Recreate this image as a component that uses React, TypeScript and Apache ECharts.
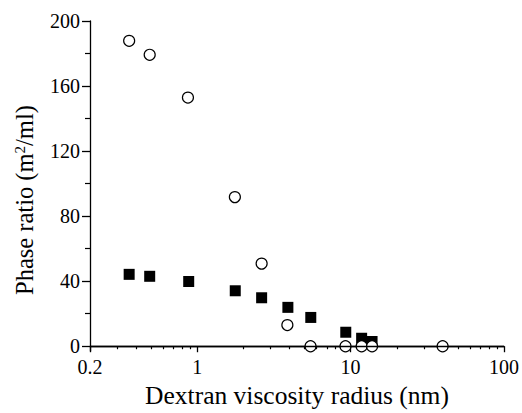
import React, { useEffect, useRef } from "react";
import * as echarts from "echarts";

const circleX = [0.36, 0.49, 0.87, 1.76, 2.63, 3.87, 5.48, 9.26, 11.8, 13.8, 39.8];
const circleY = [187.8, 179.2, 152.9, 91.7, 50.8, 13.0, 0, 0, 0, 0, 0];
const squareX = [0.36, 0.49, 0.88, 1.77, 2.63, 3.9, 5.5, 9.3, 11.8, 13.8];
const squareY = [44.2, 43.0, 39.8, 34.1, 29.8, 23.9, 17.7, 8.6, 4.9, 2.9];

const yLabelTicks = [0, 40, 80, 120, 160, 200];
const yMinorTicks = [20, 60, 100, 140, 180];
const xLabelTicks = [0.2, 1, 10, 100];
const xMinorTicks = [0.3, 0.4, 0.5, 0.6, 0.7, 0.8, 0.9, 2, 3, 4, 5, 6, 7, 8, 9, 20, 30, 40, 50, 60, 70, 80, 90];

const FONT = "'Liberation Serif', 'Times New Roman', serif";

export default function App() {
  const ref = useRef<HTMLDivElement>(null);
  useEffect(() => {
    if (!ref.current) return;
    const chart = echarts.init(ref.current, undefined, { renderer: "svg" });
    const axisLine = { show: true, lineStyle: { color: "#000", width: 1.3 } };
    chart.setOption({
      animation: false,
      backgroundColor: "#fff",
      textStyle: { fontFamily: FONT },
      grid: { left: 90, right: 17, top: 21, bottom: 60, containLabel: false },
      xAxis: [
        {
          type: "log",
          logBase: 10,
          min: 0.2,
          max: 100,
          position: "bottom",
          axisLine,
          splitLine: { show: false },
          axisTick: { show: true, customValues: xLabelTicks, length: 6, inside: false, lineStyle: { color: "#000", width: 1.3 } },
          axisLabel: {
            customValues: xLabelTicks,
            margin: 6,
            color: "#000",
            fontFamily: FONT,
            fontSize: 20,
            formatter: (v: number) => String(v),
          },
          name: "Dextran viscosity radius (nm)",
          nameLocation: "middle",
          nameGap: 28,
          nameTextStyle: { color: "#000", fontFamily: FONT, fontSize: 25.5 },
        },
        {
          type: "log",
          logBase: 10,
          min: 0.2,
          max: 100,
          position: "bottom",
          axisLine: { show: false },
          splitLine: { show: false },
          axisTick: { show: true, customValues: xMinorTicks, length: 3, inside: false, lineStyle: { color: "#000", width: 1.2 } },
          axisLabel: { show: false },
        },
      ],
      yAxis: [
        {
          type: "value",
          min: -3,
          max: 200,
          position: "left",
          axisLine,
          splitLine: { show: false },
          axisTick: { show: true, customValues: yLabelTicks, length: 8, inside: false, lineStyle: { color: "#000", width: 1.3 } },
          axisLabel: {
            customValues: yLabelTicks,
            margin: 10,
            color: "#000",
            fontFamily: FONT,
            fontSize: 20,
          },
          name: "{t|Phase ratio (m}{sup|2}{t|/ml)}{pad|}",
          nameLocation: "middle",
          nameGap: 53,
          nameRotate: 90,
          nameTextStyle: {
            color: "#000",
            fontFamily: FONT,
            fontSize: 24.5,
            rich: {
              t: { fontFamily: FONT, fontSize: 24.5, color: "#000" },
              sup: { fontFamily: FONT, fontSize: 15, color: "#000", verticalAlign: "top", padding: [0, 0, 10, 0] },
              pad: { width: 28 },
            },
          },
        },
        {
          type: "value",
          min: -3,
          max: 200,
          position: "left",
          axisLine: { show: false },
          splitLine: { show: false },
          axisTick: { show: true, customValues: yMinorTicks, length: 5, inside: false, lineStyle: { color: "#000", width: 1.2 } },
          axisLabel: { show: false },
        },
      ],
      series: [
        {
          type: "scatter",
          xAxisIndex: 0,
          yAxisIndex: 0,
          z: 2,
          symbol: "rect",
          symbolSize: 11,
          itemStyle: { color: "#000", opacity: 1 },
          data: squareX.map((x, i) => [x, squareY[i]]),
          markLine: {
            silent: true,
            symbol: "none",
            label: { show: false },
            lineStyle: { color: "#000", width: 1.3, type: "solid", opacity: 1 },
            data: [{ yAxis: 0 }],
          },
        },
        {
          type: "scatter",
          xAxisIndex: 0,
          yAxisIndex: 0,
          z: 3,
          symbol: "circle",
          symbolSize: 11,
          itemStyle: { color: "#fff", borderColor: "#000", borderWidth: 1.2, opacity: 1 },
          data: circleX.map((x, i) => [x, circleY[i]]),
        },
      ],
    });
    return () => chart.dispose();
  }, []);
  return <div ref={ref} style={{ position: "fixed", left: 0, top: 0, width: 522, height: 413 }} />;
}
